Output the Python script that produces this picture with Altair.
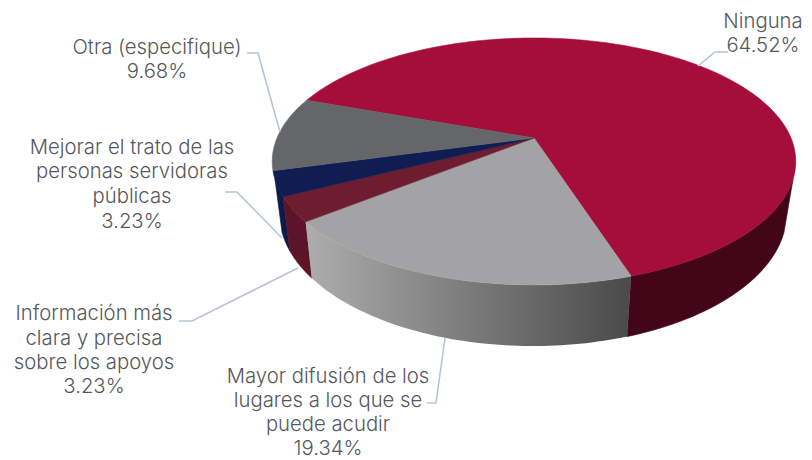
import math
import altair as alt
import pandas as pd

CATEGORIES = ["Ninguna", "Mayor difusión", "Información", "Mejorar", "Otra"]
SHARES = [64.52, 19.34, 3.23, 3.23, 9.68]
FACE_COLORS = ["#a50e3a", "#a3a3a5", "#6e1c30", "#0f1d52", "#646669"]
WALL_COLORS = ["#430518", None, "#5c1428", "#0e1a47", None]

LABELS = [
    (["Ninguna", "64.52%"], 763, [22, 46]),
    (["Otra (especifique)", "9.68%"], 157, [48, 72]),
    (["Mejorar el trato de las", "personas servidoras", "públicas", "3.23%"], 132, [148, 172, 197, 222]),
    (["Información más", "clara y precisa", "sobre los apoyos", "3.23%"], 94, [314, 339, 363, 387]),
    (["Mayor difusión de los", "lugares a los que se", "puede acudir", "19.34%"], 328, [377, 401, 425, 449]),
]
LEADERS = [
    [(698, 66), (715, 52), (728, 52)],
    [(247, 53), (258, 53), (280, 132)],
    [(225, 192), (237, 192), (282, 238)],
    [(179, 321), (192, 321), (298, 268)],
    [(427, 403), (436, 403), (445, 338)],
]

START_ANGLE = -109.7
K = 0.19
TOP = dict(cx=534, cy=138, a=257, b=119)
BOT = dict(cx=533, cy=188, a=249, b=128)
WALL_LIMIT = 71


def rim(theta_deg, r):
    t = math.radians(theta_deg)
    X, Y = math.sin(t), math.cos(t)
    w = 1 - K * Y
    return r["cx"] + r["a"] * X / w, r["cy"] + r["b"] * Y / w


def arc(a0, a1, r, n=60):
    return [rim(a0 + (a1 - a0) * i / n, r) for i in range(n + 1)]


bounds = [START_ANGLE]
for s in SHARES:
    bounds.append(bounds[-1] - s * 3.6)

X = alt.X("x:Q", scale=alt.Scale(domain=[8, 804]), axis=None)
Y = alt.Y("y:Q", scale=alt.Scale(domain=[460, 8]), axis=None)


def polygon(points, fill, stroke_w=0.6, stroke="#000000"):
    pts = list(points) + [points[0]]
    df = pd.DataFrame({"x": [p[0] for p in pts], "y": [p[1] for p in pts], "o": range(len(pts))})
    return alt.Chart(df).mark_line(
        fill=fill, stroke=stroke, strokeWidth=stroke_w, interpolate="linear", clip=False
    ).encode(x=X, y=Y, order="o:Q")


layers = []

grey_gradient = alt.Gradient(
    gradient="linear", x1=0, y1=0, x2=1, y2=0,
    stops=[alt.GradientStop(color="#adadad", offset=0),
           alt.GradientStop(color="#858585", offset=0.4),
           alt.GradientStop(color="#4a4a4a", offset=1)],
)
# angles unwrapped once around the pie, so the front walls sit in -180..180
b1, b2, b3 = bounds[1] + 360, bounds[2] + 360, bounds[3] + 360
layers.append(polygon(arc(WALL_LIMIT, b1, TOP) + arc(b1, WALL_LIMIT, BOT), WALL_COLORS[0], stroke="#430518"))
layers.append(polygon(arc(b3, -WALL_LIMIT, TOP) + arc(-WALL_LIMIT, b3, BOT), WALL_COLORS[3], stroke="#0e1a47"))
layers.append(polygon(arc(b2, b3, TOP) + arc(b3, b2, BOT), WALL_COLORS[2], stroke="#5c1428"))
layers.append(polygon(arc(b1, b2, TOP) + arc(b2, b1, BOT), grey_gradient, stroke_w=0, stroke="#808080"))

# top faces
apex = (TOP["cx"], TOP["cy"])
for i in range(len(SHARES)):
    n = max(4, int(SHARES[i] * 3))
    pts = [apex] + arc(bounds[i], bounds[i + 1], TOP, n)
    layers.append(polygon(pts, FACE_COLORS[i], stroke=FACE_COLORS[i]))

# leaders
for line in LEADERS:
    df = pd.DataFrame({"x": [p[0] for p in line], "y": [p[1] for p in line], "o": range(len(line))})
    layers.append(alt.Chart(df).mark_line(color="#b5c5d8", strokeWidth=1.6).encode(x=X, y=Y, order="o:Q"))

# labels
rows = []
for lines, cx, ys in LABELS:
    for t, yy in zip(lines, ys):
        rows.append({"x": cx, "y": yy, "t": t})
layers.append(
    alt.Chart(pd.DataFrame(rows)).mark_text(
        font="Inter", fontSize=20.3, fontWeight=300, color="#55585c", align="center", baseline="middle"
    ).encode(x=X, y=Y, text="t:N")
)

chart = alt.layer(*layers).properties(
    width=796, height=452, padding=0, autosize=alt.AutoSizeParams(type="none"),
    background="white",
).configure_view(stroke=None)

chart.save("out.html", embed_options={"renderer": "svg", "actions": False})
